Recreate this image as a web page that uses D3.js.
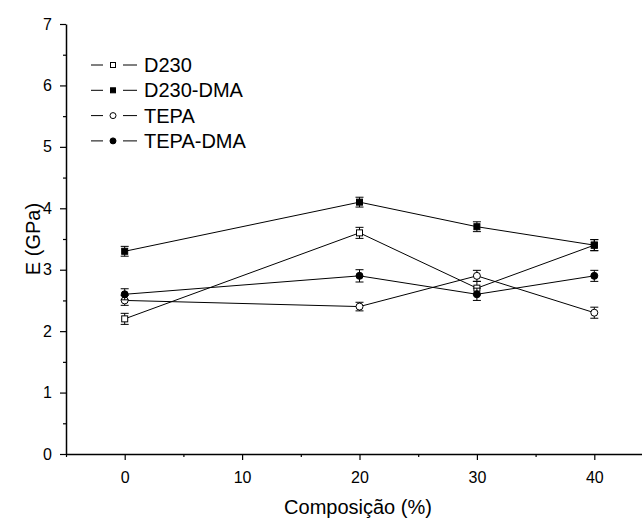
<!DOCTYPE html>
<html>
<head>
<meta charset="utf-8">
<script src="https://cdn.jsdelivr.net/npm/d3@7"></script>
<style>
  body { margin: 0; background: #fff; }
  svg text { font-family: "Liberation Sans", Arial, sans-serif; fill: #000; }
</style>
</head>
<body>
<div id="container"></div>
<script>
// composition (%)
const comp = [0, 20, 30, 40];

const seriesNames = ["D230", "D230-DMA", "TEPA", "TEPA-DMA"];
const d230 = [2.2, 3.6, 2.7, 3.4];
const d230Err = [0.09, 0.09, 0.11, 0.09];
const d230dma = [3.3, 4.1, 3.7, 3.4];
const d230dmaErr = [0.08, 0.08, 0.08, 0.09];
const tepa = [2.5, 2.4, 2.9, 2.3];
const tepaErr = [0.08, 0.07, 0.09, 0.09];
const tepadma = [2.6, 2.9, 2.6, 2.9];
const tepadmaErr = [0.09, 0.1, 0.1, 0.09];

const xTicks = [0, 10, 20, 30, 40];
const yTicks = [0, 1, 2, 3, 4, 5, 6, 7];

const width = 642, height = 519;

const series = [
    {name: seriesNames[0], vals: d230, err: d230Err, shape: "square", fill: "#fff"},
    {name: seriesNames[1], vals: d230dma, err: d230dmaErr, shape: "square", fill: "#000"},
    {name: seriesNames[2], vals: tepa, err: tepaErr, shape: "circle", fill: "#fff"},
    {name: seriesNames[3], vals: tepadma, err: tepadmaErr, shape: "circle", fill: "#000"}
];

const x = d3.scaleLinear().domain([-5, 45]).range([66, 653]);
const y = d3.scaleLinear().domain([0, 7]).range([454, 24]);

const svg = d3.select("#container")
    .append("svg")
    .attr("width", width)
    .attr("height", height);

// axes
svg.append("g")
    .attr("transform", `translate(0,${y(0)})`)
    .call(d3.axisBottom(x).tickValues(xTicks).tickSize(6).tickSizeOuter(0).tickPadding(12));
svg.append("g")
    .attr("transform", `translate(0,${y(0)})`)
    .call(d3.axisBottom(x).tickValues([-5, 5, 15, 25, 35]).tickSize(3).tickFormat(""))
    .select(".domain").remove();

svg.append("g")
    .attr("transform", `translate(${x(-5)},0)`)
    .call(d3.axisLeft(y).tickValues(yTicks).tickFormat(d3.format("d")).tickSize(6).tickSizeOuter(0).tickPadding(8));
svg.append("g")
    .attr("transform", `translate(${x(-5)},0)`)
    .call(d3.axisLeft(y).tickValues(d3.range(0.5, 7, 1)).tickSize(3).tickFormat(""))
    .select(".domain").remove();

svg.selectAll(".domain").attr("stroke-width", 1.5);
svg.selectAll(".tick line").attr("stroke-width", 1.2);
svg.selectAll(".tick text").attr("font-size", 16);

svg.append("text")
    .attr("x", 358).attr("y", 514)
    .attr("text-anchor", "middle")
    .attr("font-size", 20)
    .text("Composição (%)");

svg.append("text")
    .attr("transform", `translate(40,${(y(0) + y(7)) / 2}) rotate(-90)`)
    .attr("text-anchor", "middle")
    .attr("font-size", 20)
    .text("E (GPa)");

function drawMarker(g, shape, fill, cx, cy) {
    if (shape === "square") {
        g.append("rect")
            .attr("x", cx - 3).attr("y", cy - 3)
            .attr("width", 6).attr("height", 6)
            .attr("fill", fill).attr("stroke", "#000").attr("stroke-width", 1);
    } else {
        g.append("circle")
            .attr("cx", cx).attr("cy", cy).attr("r", 3.5)
            .attr("fill", fill).attr("stroke", "#000").attr("stroke-width", 1);
    }
}

const line = d3.line().x(d => x(d[0])).y(d => y(d[1]));

series.forEach(s => {
    const pts = comp.map((c, i) => [c, s.vals[i], s.err[i]]);
    const g = svg.append("g");
    g.append("path")
        .attr("d", line(pts))
        .attr("fill", "none")
        .attr("stroke", "#000")
        .attr("stroke-width", 1);

    pts.forEach(p => {
        const cx = x(p[0]);
        const y1 = y(p[1] + p[2]), y2 = y(p[1] - p[2]);
        g.append("line").attr("x1", cx).attr("x2", cx).attr("y1", y1).attr("y2", y2)
            .attr("stroke", "#000");
        [y1, y2].forEach(yy => {
            g.append("line").attr("x1", cx - 4).attr("x2", cx + 4).attr("y1", yy).attr("y2", yy)
                .attr("stroke", "#000");
        });
        drawMarker(g, s.shape, s.fill, cx, y(p[1]));
    });
});

// legend
const legend = svg.append("g");
series.forEach((s, i) => {
    const ly = 65 + i * 25.3;
    const g = legend.append("g");
    g.append("line").attr("x1", 91).attr("x2", 103).attr("y1", ly).attr("y2", ly).attr("stroke", "#000");
    g.append("line").attr("x1", 123).attr("x2", 137).attr("y1", ly).attr("y2", ly).attr("stroke", "#000");
    if (s.shape === "square") {
        g.append("rect").attr("x", 110.5).attr("y", ly - 2.5).attr("width", 5).attr("height", 5)
            .attr("fill", s.fill).attr("stroke", "#000");
    } else {
        g.append("circle").attr("cx", 113).attr("cy", ly).attr("r", 3)
            .attr("fill", s.fill).attr("stroke", "#000");
    }
    g.append("text").attr("x", 144).attr("y", ly + 7)
        .attr("font-size", 20)
        .text(s.name);
});
</script>
</body>
</html>
